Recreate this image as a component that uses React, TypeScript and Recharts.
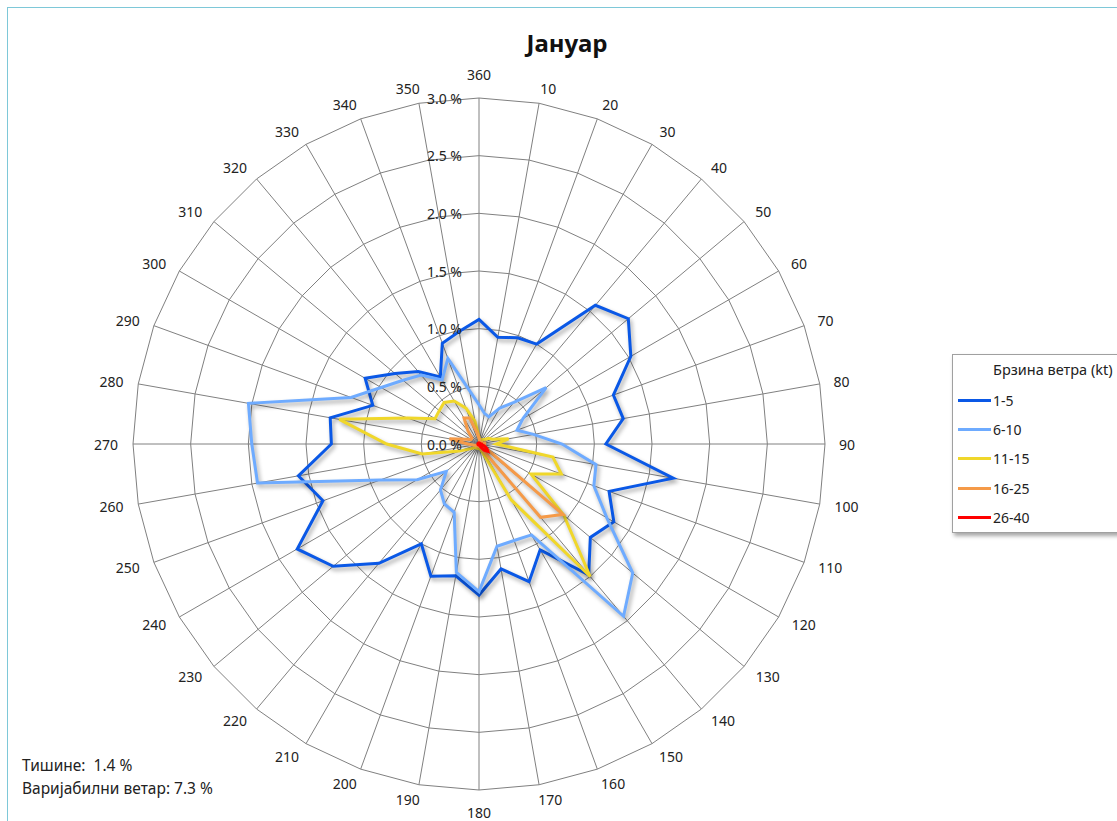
import { RadarChart, Radar, PolarGrid, PolarAngleAxis, PolarRadiusAxis, Legend } from "recharts";

const directions = ["360", "10", "20", "30", "40", "50", "60", "70", "80", "90", "100", "110", "120", "130", "140", "150", "160", "170", "180", "190", "200", "210", "220", "230", "240", "250", "260", "270", "280", "290", "300", "310", "320", "330", "340", "350"];

const speed1to5 = [1.08, 0.94, 0.98, 1.0, 1.57, 1.69, 1.52, 1.24, 1.27, 1.1, 1.71, 1.2, 1.35, 1.26, 1.48, 1.06, 1.27, 1.1, 1.31, 1.16, 1.22, 1.0, 1.35, 1.65, 1.82, 1.44, 1.59, 1.28, 1.31, 0.98, 1.14, 0.95, 0.82, 0.67, 0.93, 0.99];
const speed6to10 = [0.34, 0.27, 0.25, 0.36, 0.47, 0.76, 0.44, 0.35, 0.48, 0.72, 1.03, 1.06, 1.28, 1.74, 1.95, 0.91, 0.89, 0.9, 1.28, 1.13, 0.63, 0.6, 0.52, 0.37, 0.62, 0.91, 1.95, 1.97, 2.03, 1.18, 0.98, 0.86, 0.78, 0.64, 0.79, 0.47];
const speed11to15 = [0.06, 0.04, 0.04, 0.04, 0.05, 0.06, 0.1, 0.12, 0.26, 0.15, 0.65, 0.76, 0.52, 0.96, 1.5, 0.56, 0.06, 0.04, 0.04, 0.04, 0.04, 0.04, 0.04, 0.05, 0.08, 0.18, 0.5, 0.8, 1.23, 0.66, 0.44, 0.45, 0.47, 0.43, 0.33, 0.2];
const speed16to25 = [0.05, 0.03, 0.02, 0.02, 0.02, 0.02, 0.03, 0.03, 0.05, 0.05, 0.05, 0.05, 0.06, 0.95, 0.83, 0.05, 0.03, 0.02, 0.02, 0.02, 0.02, 0.02, 0.02, 0.02, 0.03, 0.03, 0.05, 0.1, 0.26, 0.12, 0.08, 0.08, 0.15, 0.26, 0.24, 0.1];
const speed26to40 = [0.01, 0.01, 0.01, 0.01, 0.01, 0.01, 0.01, 0.01, 0.01, 0.02, 0.02, 0.05, 0.08, 0.1, 0.07, 0.03, 0.01, 0.01, 0.01, 0.01, 0.01, 0.01, 0.01, 0.01, 0.01, 0.01, 0.01, 0.01, 0.01, 0.01, 0.01, 0.01, 0.01, 0.01, 0.01, 0.01];

const radiusTicks = [0, 0.5, 1, 1.5, 2, 2.5, 3];

const series = [
  { key: "s1", name: "1-5", color: "#0a58e6", values: speed1to5 },
  { key: "s2", name: "6-10", color: "#6eabff", values: speed6to10 },
  { key: "s3", name: "11-15", color: "#f0d72a", values: speed11to15 },
  { key: "s4", name: "16-25", color: "#f59a48", values: speed16to25 },
  { key: "s5", name: "26-40", color: "#ff0000", values: speed26to40 },
];

const data = directions.map((d, i) => {
  const row: Record<string, string | number> = { dir: d };
  series.forEach(s => { row[s.key] = s.values[i]; });
  return row;
});

const CX = 479;
const CY = 444;
const R = 346;
const FONT = "'Noto Sans', sans-serif";

// excel-ish label placement: box sits beside the spoke end
const AngleTick = (props: any) => {
  const { payload } = props;
  const theta = ((90 - payload.coordinate) * Math.PI) / 180;
  const s = Math.sin(theta);
  const c = Math.cos(theta);
  let x = CX + R * s;
  let y = CY - R * c;
  if (Math.abs(s) < 0.01) {
    y += c > 0 ? -24 : 24;
    if (c < 0) y = Math.min(y, 812);
  } else {
    const w = String(payload.value).length > 2 ? 27 : 22;
    x += Math.sign(s) * w * Math.sqrt(Math.abs(s));
    y += -15 * c;
  }
  return (
    <text x={x} y={y} textAnchor="middle" dominantBaseline="central" fontSize={14} fill="#222" fontFamily={FONT}>
      {payload.value}
    </text>
  );
};

const RadiusTick = (props: any) => {
  const { x, y, payload } = props;
  return (
    <text x={x - 17} y={y} textAnchor="end" dominantBaseline="central" fontSize={14} fill="#222" fontFamily={FONT}>
      {payload.value.toFixed(1)} %
    </text>
  );
};

const LegendBox = () => (
  <div style={{ width: 180, height: 177, border: "1px solid #a0a0a0", background: "#fff", boxShadow: "2px 3px 4px rgba(0,0,0,0.35)", fontFamily: FONT, fontSize: 14, color: "#222", position: "relative" }}>
    <div style={{ position: "absolute", left: 40, top: 4, fontSize: 14.5 }}>Брзина ветра (kt)</div>
    {series.map((s, i) => (
      <div key={s.key} style={{ position: "absolute", left: 5, top: 36 + i * 29.2, display: "flex", alignItems: "center" }}>
        <div style={{ width: 33, height: 3, background: s.color }} />
        <span style={{ marginLeft: 2 }}>{s.name}</span>
      </div>
    ))}
  </div>
);

export default function App() {
  return (
    <div style={{ position: "relative", width: 1117, height: 821, background: "#fff", overflow: "hidden" }}>
      <style>{`body{margin:0;overflow:hidden} .recharts-radar-polygon path{filter:drop-shadow(2px 3px 2px rgba(0,0,0,0.35))}`}</style>
      <div style={{ position: "absolute", left: 7, top: 7, width: 1200, height: 900, borderLeft: "1px solid #7ec8d8", borderTop: "1px solid #7ec8d8" }} />
      <div style={{ position: "absolute", left: 0, top: 26, width: 1134, textAlign: "center", fontFamily: FONT, fontWeight: 700, fontSize: 24, color: "#111" }}>Јануар</div>
      <div style={{ position: "absolute", left: 0, top: 0 }}>
        <RadarChart width={1117} height={821} data={data} cx={CX} cy={CY} outerRadius={R} margin={{ top: 0, right: 0, bottom: 0, left: 0 }}>
          <PolarGrid gridType="polygon" stroke="#808080" strokeWidth={1} />
          <PolarAngleAxis dataKey="dir" tick={AngleTick} tickLine={false} axisLine={false} />
          <PolarRadiusAxis angle={90} domain={[0, 3]} ticks={radiusTicks} tickCount={7} tick={RadiusTick} axisLine={false} tickLine={false} />
          {series.map(s => (
            <Radar key={s.key} name={s.name} dataKey={s.key} stroke={s.color} strokeWidth={3} fill="none" fillOpacity={0} dot={false} isAnimationActive={false} />
          ))}
          <Legend content={LegendBox} wrapperStyle={{ position: "absolute", left: 952, top: 354, width: 180 }} />
        </RadarChart>
      </div>
      <div style={{ position: "absolute", left: 22, top: 754, fontFamily: FONT, fontSize: 15.5, color: "#222", lineHeight: "23px" }}>
        <div>Тишине:&nbsp; 1.4 %</div>
        <div>Варијабилни ветар: 7.3 %</div>
      </div>
    </div>
  );
}
